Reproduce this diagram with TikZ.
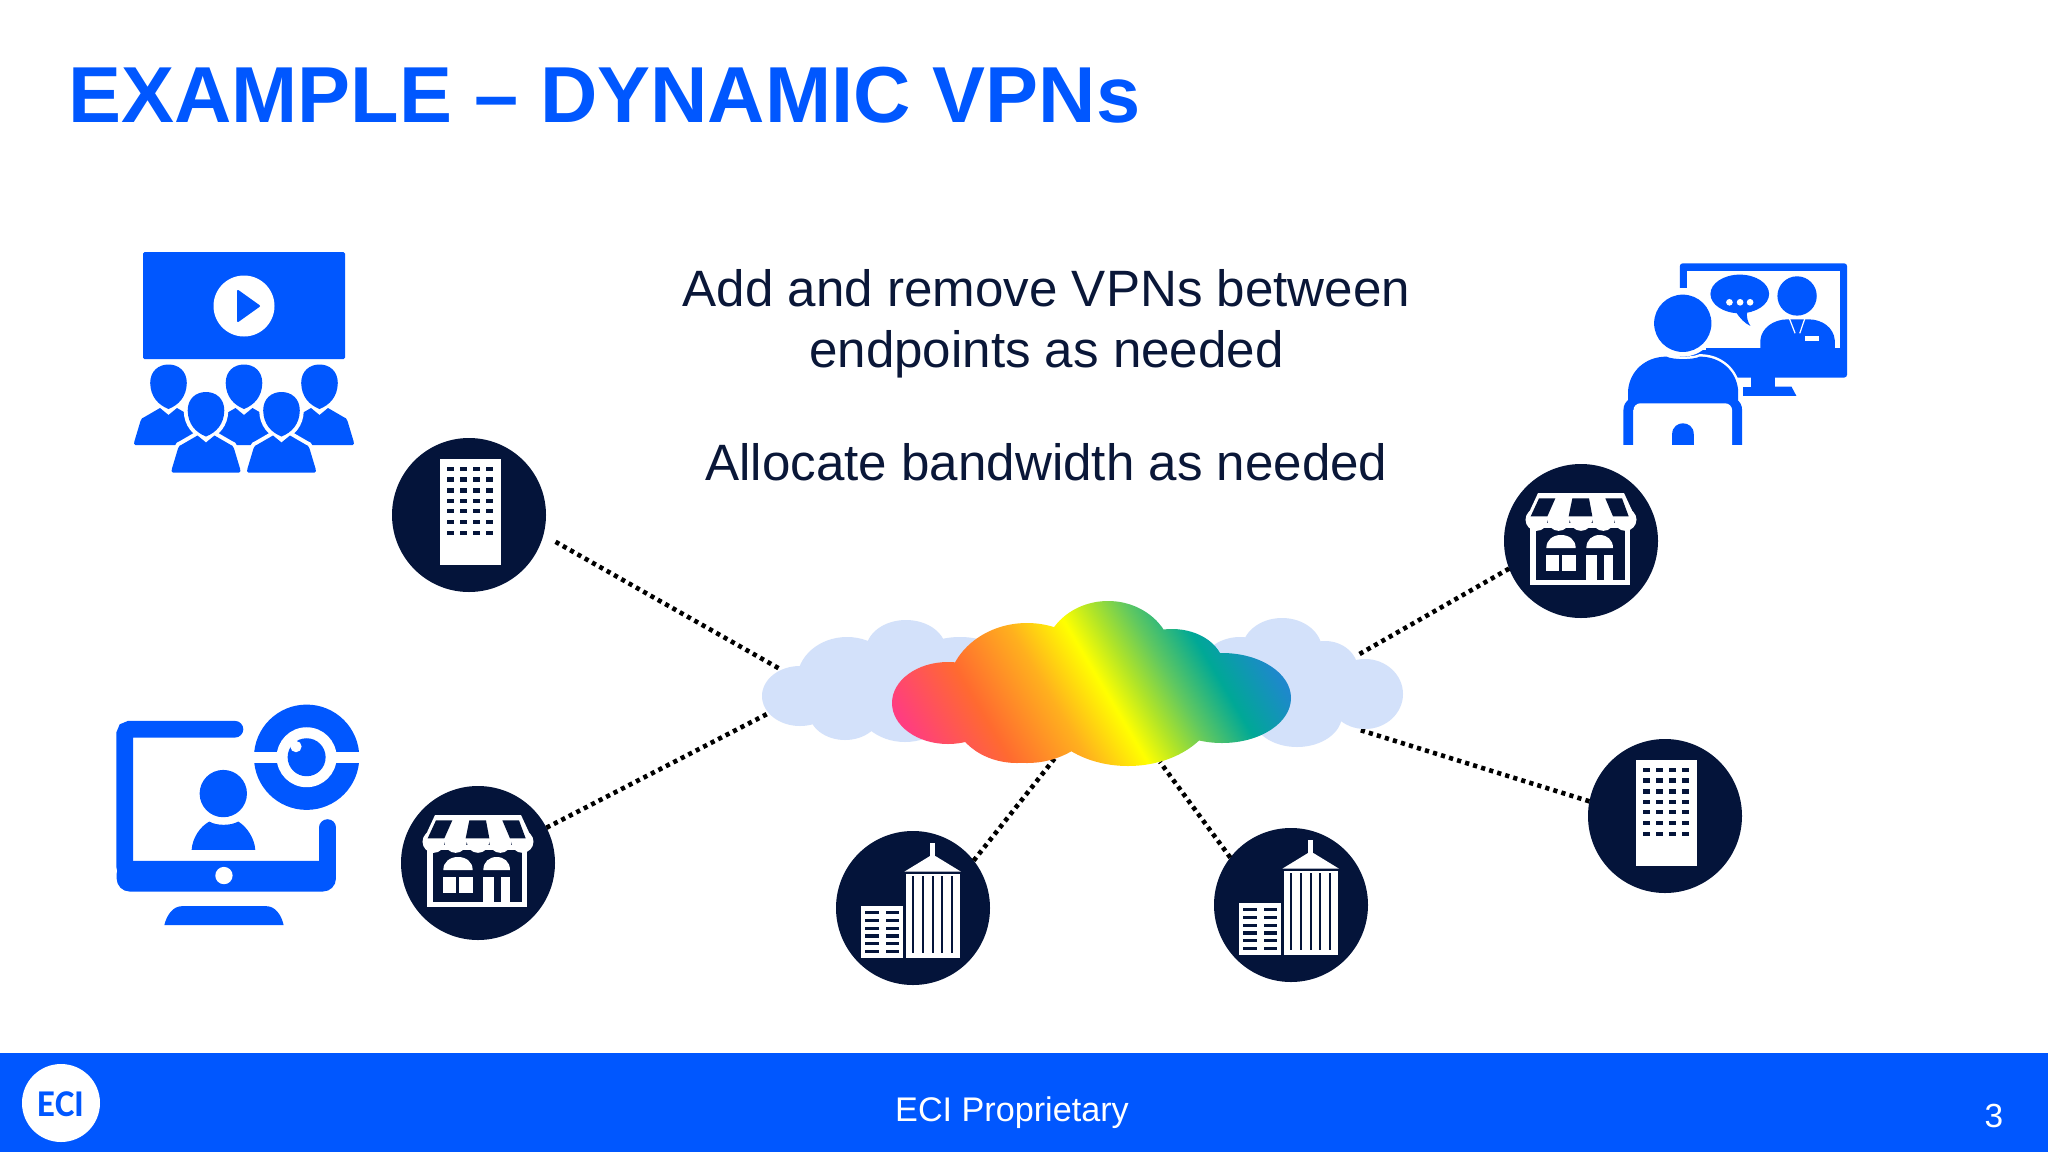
\documentclass[tikz,border=0pt]{standalone}
\usepackage{fontspec}
\setmainfont{Liberation Sans}
\newfontfamily\logofont{Carlito}
\definecolor{eciblue}{HTML}{0057FF}
\definecolor{navy}{HTML}{04143A}
\definecolor{inktext}{HTML}{0A1738}
\definecolor{paleblue}{HTML}{D3E1FA}
\definecolor{rbpink}{HTML}{FF3D80}
\definecolor{rbred}{HTML}{FF6A30}
\definecolor{rborange}{HTML}{FFB01E}
\definecolor{rbyellow}{HTML}{FFFF00}
\definecolor{rblime}{HTML}{B0E428}
\definecolor{rbgreen}{HTML}{60C860}
\definecolor{rbteal}{HTML}{00A896}
\definecolor{rbbluec}{HTML}{1E88CC}
\pgfdeclarehorizontalshading{rainbowfill}{700bp}{
 color(0bp)=(rbpink); color(160bp)=(rbpink); color(233bp)=(rbred);
 color(300bp)=(rborange); color(350bp)=(rbyellow); color(380bp)=(rblime);
 color(412bp)=(rbgreen); color(454bp)=(rbteal); color(507bp)=(rbbluec); color(700bp)=(rbbluec)}
\tikzset{
 x=1bp,y=-1bp,
 hub/.style={circle,fill=navy,minimum size=154bp,inner sep=0pt,outer sep=0pt},
 link/.style={line width=4.6bp,dash pattern=on 4.2bp off 4.2bp,black},
 bodytext/.style={inktext,font=\fontsize{51.3}{51.3}\selectfont,inner sep=0pt,anchor=base},
 zoomunits/.style={x=0.3333bp,y=-0.3333bp},
 officeicon/.pic={
  \begin{scope}[zoomunits,shift={(-1105,-855)}]
   \fill[white] (1017,688) rectangle (1200,1005);
   \foreach \wy in {710,742,775,806,837,870,902}
    \foreach \wx in {1038,1078,1117,1157}
     \fill[navy] (\wx,\wy) rectangle ++(21,13);
  \end{scope}},
 storeicon/.pic={
  \begin{scope}[zoomunits,shift={(-204,-204)}]
   \fill[white] (52,150) rectangle (352,335);
   \fill[navy] (68,165) rectangle (337,320);
   \fill[white] (75,60) -- (333,60) -- (370,140) -- (38,140) -- cycle;
   \foreach \sx in {71,137,204,271,337}
    \fill[white] (\sx,140) circle [radius=33.5];
   \fill[navy] (78,76) -- (127,76) -- (103,130) -- (53,130) -- cycle;
   \fill[navy] (178,76) -- (228,76) -- (238,130) -- (167,130) -- cycle;
   \fill[navy] (277,76) -- (327,76) -- (347,130) -- (300,130) -- cycle;
   \fill[white] (100,225) .. controls (100,200) and (120,186) .. (144,186) .. controls (168,186) and (188,200) .. (188,225) -- cycle;
   \fill[white] (220,225) .. controls (220,200) and (238,186) .. (260,186) .. controls (282,186) and (300,200) .. (300,225) -- cycle;
   \fill[white] (100,245) rectangle (138,295);
   \fill[white] (148,245) rectangle (188,295);
   \fill[white] (220,245) rectangle (252,320);
   \fill[white] (272,245) rectangle (300,320);
  \end{scope}},
 towericon/.pic={
  \begin{scope}[zoomunits,shift={(-189,-204)}]
   \fill[white] (240,8) rectangle (256,50);
   \fill[white] (163,95) -- (240,48) -- (256,48) -- (333,95) -- cycle;
   \fill[white] (167,102) rectangle (330,355);
   \foreach \tx in {190,219,248,277,306}
    \fill[navy] (\tx-3,108) rectangle (\tx+3,338);
   \fill[white] (34,197) rectangle (158,355);
   \foreach \ty in {213,236,260,283,306,329}
    {\fill[navy] (46,\ty) rectangle (86,\ty+10);
     \fill[navy] (108,\ty) rectangle (148,\ty+10);}
  \end{scope}},
 audienceperson/.pic={
  \path[pic actions] (0,-36) .. controls (-10,-40) and (-18,-48) .. (-18.3,-62) .. controls (-18.3,-74) and (-10,-80.5) .. (0,-80.5) .. controls (10,-80.5) and (18.3,-74) .. (18.3,-62) .. controls (18,-48) and (10,-40) .. (0,-36) -- cycle;
  \path[pic actions] (-33,0) .. controls (-35,0) and (-34.5,-2) .. (-34,-4) -- (-28,-24) .. controls (-27,-27) and (-26,-27) .. (-24,-28) -- (-8.5,-37) -- (0,-30) -- (8.5,-37) -- (24,-28) .. controls (26,-27) and (27,-27) .. (28,-24) -- (34,-4) .. controls (34.5,-2) and (35,0) .. (33,0) -- cycle;
 }
}
\begin{document}
\begin{tikzpicture}
\useasboundingbox (0,0) rectangle (2048,1152);
\fill[white] (0,0) rectangle (2048,1152);

% title and text
\node[eciblue,font=\fontsize{79.7}{79.7}\selectfont\bfseries,inner sep=0pt,anchor=base west] (title) at (68,122) {EXAMPLE – DYNAMIC VPNs};
\node[bodytext] (line1) at (1046.5,306) {Add and remove VPNs between};
\node[bodytext] (line2) at (1046.5,367) {endpoints as needed};
\node[bodytext] (line3) at (1046.5,480) {Allocate bandwidth as needed};

% footer
\fill[eciblue] (0,1053) rectangle (2048,1152);
\node[circle,fill=white,minimum size=78bp,inner sep=0pt] (logo) at (61,1103) {};
\node[eciblue,inner sep=0pt,font=\logofont\bfseries\fontsize{38}{38}\selectfont] (logotext) at (61,1104) {\scalebox{0.97}[1]{ECI}};
\node[white,font=\fontsize{34.3}{34.3}\selectfont,inner sep=0pt,anchor=base] (foot) at (1012,1121) {ECI Proprietary};
\node[white,font=\fontsize{33.5}{33.5}\selectfont,inner sep=0pt,anchor=base] (pageno) at (1994,1127) {3};

% hubs
\node[hub] (office1) at (469,515) {};
\node[hub] (store1) at (478,863) {};
\node[hub] (store2) at (1581,541) {};
\node[hub] (office2) at (1665,816) {};
\node[hub] (tower1) at (913,908) {};
\node[hub] (tower2) at (1291,905) {};
\pic at (office1) {officeicon};
\pic at (office2) {officeicon};
\pic at (store1) {storeicon};
\pic at (store2) {storeicon};
\pic at (tower1) {towericon};
\pic at (tower2) {towericon};

% cloud ends of the links
\coordinate (cloudA) at (780,669);
\coordinate (cloudB) at (769,713);
\coordinate (cloudC) at (1356,656);
\coordinate (cloudD) at (1360,730);
\coordinate (cloudE) at (1055,758);
\coordinate (cloudF) at (1160,762);
\draw[link,shorten <=14bp] (office1.-15) -- (cloudA);
\draw[link] (store1) -- (cloudB);
\draw[link] (store2.201) -- (cloudC);
\draw[link] (office2.169) -- (cloudD);
\draw[link] (tower1.38) -- (cloudE);
\draw[link] (tower2.142) -- (cloudF);

% pale cloud
\fill[paleblue]
 (800,696) ellipse [x radius=38,y radius=30]
 (847,680) ellipse [x radius=50,y radius=43]
 (906,650) ellipse [x radius=40,y radius=30]
 (845,712) ellipse [x radius=36,y radius=28]
 (905,700) ellipse [x radius=50,y radius=42]
 (960,680) ellipse [x radius=60,y radius=43]
 (1282,650) ellipse [x radius=40,y radius=32]
 (1325,670) ellipse [x radius=33,y radius=29]
 (1365,694) ellipse [x radius=38,y radius=35]
 (1297,715) ellipse [x radius=45,y radius=32]
 (1240,670) ellipse [x radius=40,y radius=33]
 (1300,690) ellipse [x radius=50,y radius=40];

% rainbow cloud
\begin{scope}
 \clip
 (948,703) ellipse [x radius=56,y radius=41]
 (1027,693) ellipse [x radius=80,y radius=70]
 (1017,710) ellipse [x radius=65,y radius=53]
 (1108,660) ellipse [x radius=65,y radius=59]
 (1172,668) ellipse [x radius=52,y radius=39]
 (1222,698) ellipse [x radius=69,y radius=45]
 (1128,700) ellipse [x radius=90,y radius=66]
 (1080,690) ellipse [x radius=130,y radius=55];
 \node[rotate=30.7,inner sep=0pt] (rainbow) at (1097,677) {\pgfuseshading{rainbowfill}};
\end{scope}

% audience icon
\fill[eciblue,rounded corners=1.5bp] (143,252) rectangle (345,359);
\fill[white] (244,306) circle [radius=30.5];
\fill[eciblue,line join=round,draw=eciblue,line width=2bp] (238,291) -- (259,306) -- (238,321) -- cycle;
\foreach \px in {168.5,244,319.5}
 \pic[fill=eciblue] at (\px,445) {audienceperson};
\foreach \px in {206,281.5}
 {\pic[fill=white,draw=white,line width=8bp] at (\px,472.5) {audienceperson};
  \pic[fill=eciblue] at (\px,472.5) {audienceperson};}

% webcam monitor icon
\begin{scope}[zoomunits,shift={(300,2070)}]
 \draw[eciblue,line width=16.7bp,line cap=round,rounded corners=5bp] (405,118) -- (74,118) -- (74,530);
 \draw[eciblue,line width=16.7bp,line cap=round] (683,413) -- (683,530);
 \fill[eciblue,rounded corners=13bp] (50,513) rectangle (708,605);
 \fill[eciblue] (50,513) rectangle (708,560);
 \fill[white] (372,557) circle [radius=26];
 \fill[eciblue] (193,706) .. controls (200,675) and (220,649) .. (245,649) -- (500,649) .. controls (525,649) and (545,675) .. (551,706) -- cycle;
 \fill[eciblue] (370,311) circle [radius=71];
 \fill[eciblue] (275,480) .. controls (277,445) and (300,410) .. (328,395) .. controls (350,408) and (392,408) .. (415,395) .. controls (440,410) and (464,445) .. (466,480) -- cycle;
 \fill[eciblue] (620,202) circle [radius=158];
 \fill[white] (455,185) rectangle (785,218);
 \fill[white] (620,202) circle [radius=90];
 \fill[eciblue] (620,202) circle [radius=57];
 \fill[white] (588,170) circle [radius=17];
\end{scope}

% video call icon
\begin{scope}[zoomunits,shift={(4440,750)}]
 \fill[eciblue,rounded corners=3bp] (600,40) rectangle (1102,383);
 \fill[eciblue] (815,375) rectangle (885,415);
 \fill[eciblue] (790,410) -- (935,410) -- (950,438) -- (790,438) -- cycle;
 \fill[white] (622,62) rectangle (1080,295);
 \fill[white] (590,115) rectangle (680,300);
 \fill[eciblue] (780,132) ellipse [x radius=88,y radius=58];
 \fill[eciblue] (768,185) .. controls (780,205) and (795,220) .. (812,228) .. controls (803,215) and (800,200) .. (802,185) -- cycle;
 \foreach \dx in {749,781,811} \fill[white] (\dx,157) circle [radius=10];
 \fill[eciblue] (952,138) circle [radius=59];
 \fill[eciblue] (842,300) -- (842,270) .. controls (845,235) and (880,208) .. (925,208) -- (985,208) .. controls (1030,208) and (1062,235) .. (1065,270) -- (1065,300) -- cycle;
 \fill[white] (975,258) rectangle (1017,272);
 \draw[white,line width=1.2bp] (929,206) -- (946,250);
 \draw[white,line width=1.2bp] (975,206) -- (960,250);
 \fill[white] (609,220) circle [radius=100];
 \path[fill=white,draw=white,line width=5bp] (445,445) -- (445,420) .. controls (450,365) and (495,320) .. (560,320) .. controls (580,330) and (640,330) .. (660,320) .. controls (725,320) and (770,365) .. (775,420) -- (775,445) -- cycle;
 \fill[white] (770,383) rectangle (815,410);
 \fill[white] (775,410) rectangle (790,445);
 \fill[eciblue] (609,220) circle [radius=86];
 \fill[eciblue] (445,455) -- (445,420) .. controls (450,365) and (495,320) .. (560,320) .. controls (580,330) and (640,330) .. (660,320) .. controls (725,320) and (770,365) .. (775,420) -- (775,455) -- cycle;
 \fill[eciblue] (431,585) -- (431,480) .. controls (431,465) and (438,455) .. (448,448) -- (770,448) .. controls (780,455) and (787,465) .. (787,480) -- (787,585) -- (757,585) -- (757,480) -- (461,480) -- (461,585) -- cycle;
 \fill[white,rounded corners=7bp] (461,460) rectangle (757,610);
 \fill[white] (425,585) rectangle (795,610);
 \fill[eciblue] (577,585) -- (577,553) .. controls (577,530) and (595,520) .. (609,520) .. controls (625,520) and (642,530) .. (642,553) -- (642,585) -- cycle;
\end{scope}
\end{tikzpicture}
\end{document}
